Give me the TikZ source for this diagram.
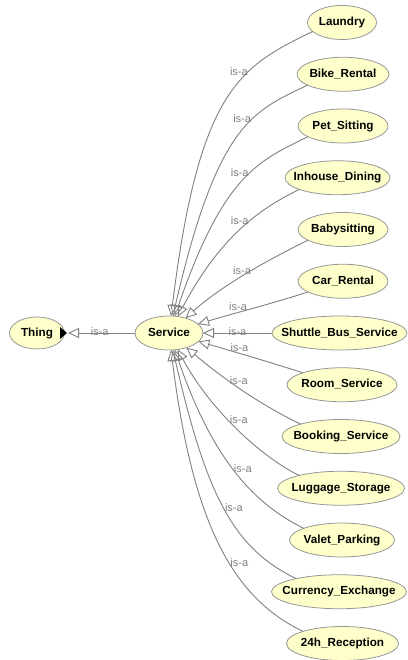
\documentclass[tikz,border=0pt]{standalone}
\usepackage{fontspec}
\newfontfamily\dialogfont{Liberation Sans}
\usetikzlibrary{arrows.meta,positioning,shapes.geometric}
\definecolor{conceptfill}{RGB}{255,255,204}
\definecolor{conceptline}{RGB}{150,150,150}
\definecolor{edgegray}{RGB}{128,128,128}

\begin{document}
\begin{tikzpicture}
[x=1pt, y=1pt,
% STYLES
% The concept style is used to draw the classes of the ontology
concept/.style={ellipse, draw=conceptline, line width=0.8pt, fill=conceptfill, inner xsep=-40pt, inner ysep=0pt, outer sep=0pt, minimum height=34pt, text height=9pt, text depth=2.5pt, font=\dialogfont\bfseries\fontsize{11.7}{14}\selectfont},
% The relation style is used to draw the is-a links
relation/.style={draw=edgegray, line width=0.9pt, -{Triangle[open, length=11pt, width=10pt]}},
% The relname style is used to write the name of each link
relname/.style={inner sep=1pt, text=edgegray, font=\dialogfont\fontsize{11}{13}\selectfont}]

\useasboundingbox (0,0) rectangle (407,660);

% Draw classes
\node [concept, minimum width=68pt] (service) at (169,327) {Service};
\node [concept, minimum width=55pt, minimum height=32pt, left=70.5pt of service] (thing) {Thing};
\node [concept, minimum width=135pt, right=69pt of service] (shuttlebus) {Shuttle\_Bus\_Service};
\node [concept, minimum width=90pt, above=17.75pt of shuttlebus, xshift=3.5pt] (carrental) {Car\_Rental};
\node [concept, minimum width=90pt, above=17.75pt of carrental] (babysitting) {Babysitting};
\node [concept, minimum width=105pt, above=17.75pt of babysitting, xshift=-5.5pt] (inhousedining) {Inhouse\_Dining};
\node [concept, minimum width=90pt, above=17.75pt of inhousedining, xshift=5.5pt] (petsitting) {Pet\_Sitting};
\node [concept, minimum width=92pt, above=17.75pt of petsitting] (bikerental) {Bike\_Rental};
\node [concept, minimum width=69pt, above=17.75pt of bikerental, xshift=-1pt] (laundry) {Laundry};
\node [concept, minimum width=110pt, below=17.75pt of shuttlebus, xshift=2.5pt] (roomservice) {Room\_Service};
\node [concept, minimum width=118pt, below=17.75pt of roomservice, xshift=-1pt] (bookingservice) {Booking\_Service};
\node [concept, minimum width=127pt, below=17.75pt of bookingservice] (luggagestorage) {Luggage\_Storage};
\node [concept, minimum width=105pt, below=17.75pt of luggagestorage, xshift=1pt] (valetparking) {Valet\_Parking};
\node [concept, minimum width=135pt, below=17.75pt of valetparking, xshift=-3pt] (currencyexchange) {Currency\_Exchange};
\node [concept, minimum width=112pt, below=17.75pt of currencyexchange, xshift=3.5pt] (reception) {24h\_Reception};

% THING (expand marker)
\fill (thing.east) ++(-4.5,6) -- ++(0,-12) -- ++(7,6) -- cycle;

% Draw the links between classes
\draw[relation, shorten >=3.5pt] (service) -- (thing) node[relname, midway, yshift=1pt] {is-a};
% UPPER SUBCLASSES
\draw[relation] (laundry.197) .. controls +(206:80) and +(83:230) .. (service.83) node[relname, pos=0.34, anchor=east] {is-a};
\draw[relation] (bikerental.197) .. controls +(206:60) and +(77:200) .. (service.77) node[relname, pos=0.38, anchor=east] {is-a};
\draw[relation] (petsitting.197) .. controls +(206:55) and +(71:150) .. (service.71) node[relname, pos=0.43, anchor=east] {is-a};
\draw[relation] (inhousedining.197) .. controls +(206:45) and +(62:90) .. (service.62) node[relname, pos=0.41, anchor=east] {is-a};
\draw[relation] (babysitting.197) .. controls +(206:40) and +(42:50) .. (service.42) node[relname, pos=0.46, anchor=east] {is-a};
\draw[relation] (carrental.197) .. controls +(198:40) and +(17:35) .. (service.17) node[relname, pos=0.62, anchor=south] {is-a};
% MIDDLE
\draw[relation] (shuttlebus) -- (service) node[relname, midway, yshift=1.5pt] {is-a};
% LOWER SUBCLASSES
\draw[relation] (roomservice.163) .. controls +(162:30) and +(-16:30) .. (service.-16) node[relname, pos=0.6, anchor=south] {is-a};
\draw[relation] (bookingservice.163) .. controls +(154:50) and +(-40:45) .. (service.-40) node[relname, pos=0.6, anchor=west] {is-a};
\draw[relation] (luggagestorage.163) .. controls +(154:42) and +(-62:68) .. (service.-62) node[relname, pos=0.56, anchor=west] {is-a};
\draw[relation] (valetparking.163) .. controls +(154:60) and +(-71:110) .. (service.-71) node[relname, pos=0.5, anchor=west] {is-a};
\draw[relation] (currencyexchange.163) .. controls +(154:70) and +(-77:150) .. (service.-77) node[relname, pos=0.5, anchor=west] {is-a};
\draw[relation] (reception.163) .. controls +(154:70) and +(-83:190) .. (service.-83) node[relname, pos=0.45, anchor=west] {is-a};

\end{tikzpicture}
\end{document}
